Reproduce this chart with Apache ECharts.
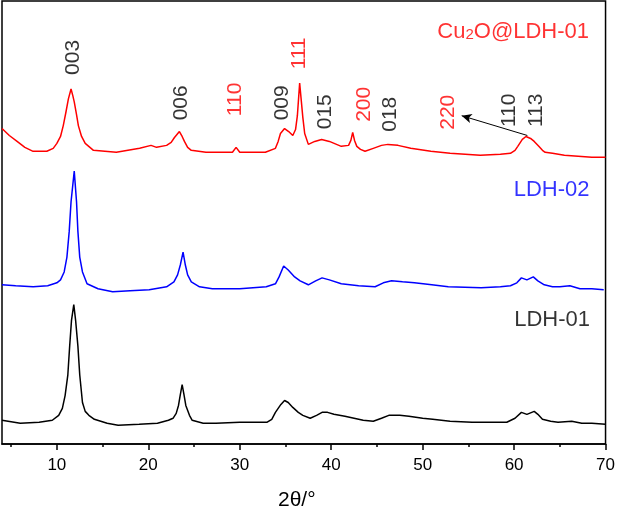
<!DOCTYPE html>
<html>
<head>
<meta charset="utf-8">
<script src="https://cdn.jsdelivr.net/npm/echarts@6/dist/echarts.min.js"></script>
<style>
  html, body { margin: 0; padding: 0; background: #fff; }
  #chart { width: 618px; height: 516px; }
</style>
</head>
<body>
<div id="chart"></div>
<script>
const chart = echarts.init(document.getElementById("chart"));

// ==========================
// DATA (2θ, stacked intensity a.u.)
// ==========================

const ldh01 = [
  [4, 24], [6, 21], [8.06, 22], [9.5, 24], [10.2, 29], [10.6, 36], [10.9, 49],
  [11.2, 70], [11.4, 99], [11.6, 125], [11.85, 141], [12.05, 125], [12.3, 99],
  [12.5, 70], [12.8, 42], [13.1, 33], [13.5, 29], [14.1, 25], [15.5, 21],
  [16.7, 19], [19, 20], [21, 21], [22.2, 24], [22.7, 26], [23.05, 31], [23.3, 39],
  [23.5, 50], [23.7, 60], [23.9, 50], [24.1, 39], [24.5, 29], [24.8, 24], [26, 21],
  [27.4, 21], [30, 22], [33, 22], [33.5, 25], [33.9, 32], [34.5, 40], [34.9, 44],
  [35.3, 42], [35.8, 37], [36.4, 32], [36.9, 29], [37.7, 26], [38.4, 29], [39, 32],
  [39.6, 32], [40.3, 30], [41.5, 28], [42.5, 26], [43.5, 24], [44.6, 23],
  [45.5, 26], [46.3, 29], [47.5, 29], [48.5, 28], [50, 26], [51.1, 25], [53, 23],
  [55.4, 22], [57.5, 22], [59.2, 22], [60.1, 26], [60.8, 32], [61.4, 30],
  [62.2, 33], [62.6, 30], [63.1, 25], [64, 23], [64.8, 22], [66.3, 23],
  [67.4, 21], [68.5, 21], [70, 20]
];

const ldh02 = [
  [4, 161], [5.5, 160], [7.4, 159], [9, 160], [10, 163], [10.4, 166], [10.8, 174],
  [11.1, 189], [11.35, 215], [11.55, 245], [11.9, 276], [12.15, 245], [12.3, 215],
  [12.5, 189], [12.8, 174], [13.3, 162], [14.5, 157], [16.1, 154], [18, 155],
  [20.1, 156], [22, 159], [22.8, 164], [23.2, 171], [23.5, 181], [23.8, 194],
  [24.05, 181], [24.3, 171], [24.7, 164], [25.6, 159], [27, 157], [30, 157],
  [32.9, 159], [33.9, 162], [34.3, 169], [34.8, 180], [35.3, 176], [36, 169],
  [36.6, 165], [37.5, 161], [38.3, 165], [39, 168], [39.8, 166], [41.1, 162],
  [43, 160], [44.8, 159], [45.7, 163], [46.6, 165], [47.8, 164], [49.1, 163],
  [51, 161], [52.8, 159], [56.4, 158], [58.5, 159], [59.6, 160], [60.3, 163],
  [60.8, 168], [61.4, 166], [62.1, 169], [62.6, 165], [63.3, 161], [64.2, 159],
  [65, 159], [66.1, 160], [67.2, 157], [68.5, 157], [69.8, 156]
];

const cu2oLdh01 = [
  [4, 319], [4.8, 312], [5.65, 306], [6.5, 300], [7.4, 296], [8.9, 296],
  [9.6, 299], [10, 304], [10.4, 311], [10.7, 322], [11, 336], [11.26, 349],
  [11.55, 359], [11.75, 352], [11.9, 346], [12.15, 333], [12.35, 322], [12.7, 311],
  [13.1, 304], [14, 297], [16.5, 295], [19.05, 299], [20.3, 302], [20.5, 303],
  [20.9, 300], [22, 302], [22.5, 305], [22.86, 310], [23.4, 316], [23.7, 311],
  [23.95, 306], [24.3, 300], [24.7, 297], [26.3, 295], [29.2, 295], [29.6, 300],
  [30, 295], [32.8, 295], [33.9, 299], [34.2, 306], [34.45, 314], [34.9, 319],
  [35.35, 316], [35.8, 312], [36.1, 318], [36.3, 332], [36.55, 365], [36.75, 345],
  [36.9, 330], [37.1, 314], [37.5, 303], [38.2, 306], [38.95, 308], [39.8, 306],
  [41.1, 301], [41.9, 302], [42.15, 307], [42.35, 315], [42.55, 307], [42.8, 301],
  [43.2, 298], [43.7, 296], [44.6, 299], [45.5, 302], [46.2, 303], [47.3, 302],
  [48.7, 299], [50.9, 296], [53, 294], [56.3, 292], [58.5, 293], [59.6, 294],
  [60.1, 297], [60.4, 301], [60.9, 308], [61.3, 311], [61.8, 309], [62.2, 306],
  [62.7, 301], [63.1, 297], [63.4, 295], [64.2, 294], [65.5, 292], [67, 291],
  [68.5, 290], [70, 290]
];

// peak index labels: text, 2θ, height, colour
const peakText  = ["003", "006", "110", "009", "111", "015", "200", "018", "220", "110", "113"];
const peakTheta = [11.77, 23.62, 29.54, 34.6, 36.5, 39.38, 43.57, 46.5, 52.75, 59.49, 62.43];
const peakY     = [391, 345, 348.5, 345, 395, 336, 343.5, 333.5, 335.5, 337.5, 337.5];
const peakColor = ["#000", "#000", "#f00", "#000", "#f00", "#000", "#f00", "#000", "#f00", "#000", "#000"];

// sample names
const sampleText  = ["{a|Cu}{s|2}{a|O@LDH-01}", "LDH-02", "LDH-01"];
const sampleTheta = [59.9, 64.1, 64.16];
const sampleY     = [419, 256.5, 125.5];
const sampleColor = ["#f00", "#00f", "#000"];

// arrow 113 -> 220
const arrowFrom = [61.45, 312];
const arrowTo   = [54.27, 332];

const labelTicks = [10, 20, 30, 40, 50, 60, 70];
const minorTicks = [5, 15, 25, 35, 45, 55, 65];

const FONT = "Liberation Sans, Arial, sans-serif";

// ==========================
// OPTION
// ==========================

const peakData = peakText.map((t, i) => ({
  name: t,
  value: [peakTheta[i], peakY[i]],
  label: { color: peakColor[i] }
}));

const sampleData = sampleText.map((t, i) => ({
  name: t,
  value: [sampleTheta[i], sampleY[i]],
  label: {
    color: sampleColor[i],
    fontSize: 22,
    fontFamily: FONT,
    rich: {
      a: { fontSize: 22, color: sampleColor[i], fontFamily: FONT, lineHeight: 26, verticalAlign: "bottom" },
      s: { fontSize: 15, color: sampleColor[i], fontFamily: FONT, lineHeight: 14, verticalAlign: "bottom" }
    }
  }
}));

function lineSeries(data, color) {
  return {
    type: "line",
    data: data,
    symbol: "none",
    lineStyle: { color: color, width: 1.5 },
    silent: true
  };
}

chart.setOption({
  animation: false,
  backgroundColor: "#fff",
  grid: {
    left: 2, right: 10, top: 1, bottom: 67,
    show: true, borderColor: "#000", borderWidth: 1.5
  },
  xAxis: [
    {
      type: "value",
      min: 4,
      max: 70,
      name: "2θ/°",
      nameLocation: "middle",
      nameGap: 46,
      nameTextStyle: { fontSize: 21, color: "#000", fontFamily: FONT, padding: [0, 14, 0, 0] },
      axisLine: { show: true, lineStyle: { color: "#000", width: 1.5 } },
      axisTick: { show: true, length: 6, customValues: labelTicks, lineStyle: { color: "#000", width: 1.5 } },
      axisLabel: { customValues: labelTicks, fontSize: 17, color: "#000", fontFamily: FONT, margin: 13 },
      splitLine: { show: false }
    },
    {
      type: "value",
      min: 4,
      max: 70,
      position: "bottom",
      axisLine: { show: false },
      axisTick: { show: true, length: 3, customValues: minorTicks, lineStyle: { color: "#000", width: 1.5 } },
      axisLabel: { show: false },
      splitLine: { show: false }
    }
  ],
  yAxis: {
    type: "value",
    min: 0,
    max: 448,
    show: false
  },
  series: [
    lineSeries(ldh01, "#000000"),
    lineSeries(ldh02, "#0000ff"),
    lineSeries(cu2oLdh01, "#ff0000"),
    {
      type: "scatter",
      data: peakData,
      symbolSize: 0,
      silent: true,
      label: {
        show: true,
        position: "inside",
        rotate: 90,
        fontSize: 21,
        fontFamily: FONT,
        formatter: p => p.name
      },
      markLine: {
        silent: true,
        symbol: ["none", "arrow"],
        symbolSize: [7, 10],
        label: { show: false },
        lineStyle: { color: "#000", width: 1, type: "solid" },
        data: [[{ coord: arrowFrom }, { coord: arrowTo }]]
      }
    },
    {
      type: "scatter",
      data: sampleData,
      symbolSize: 0,
      silent: true,
      label: {
        show: true,
        position: "inside",
        formatter: p => p.name
      }
    }
  ]
});
</script>
</body>
</html>
